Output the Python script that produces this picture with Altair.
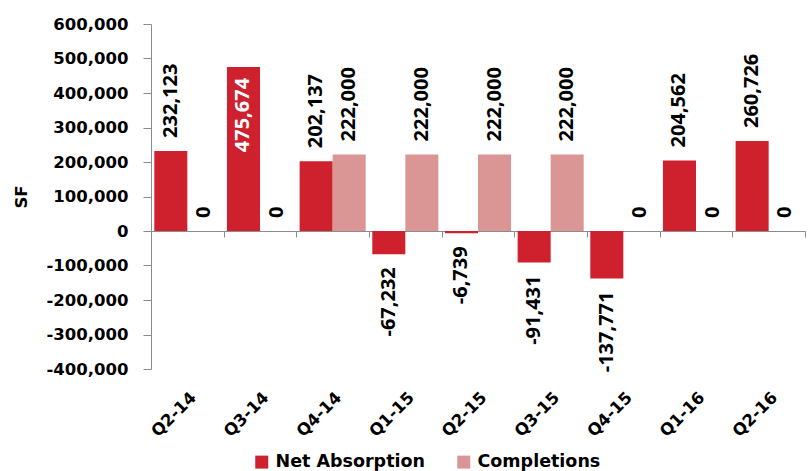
import altair as alt
import pandas as pd

# Quarterly office market figures (square feet)
quarters = ["Q2-14", "Q3-14", "Q4-14", "Q1-15", "Q2-15", "Q3-15", "Q4-15", "Q1-16", "Q2-16"]
net_absorption = [232123, 475674, 202137, -67232, -6739, -91431, -137771, 204562, 260726]
completions = [0, 0, 222000, 222000, 222000, 222000, 0, 0, 0]
series_names = ["Net Absorption", "Completions"]
series_colors = ["#CF202E", "#D99694"]

rows = []
for q, na, c in zip(quarters, net_absorption, completions):
    rows.append({"quarter": q, "series": series_names[0], "value": na})
    rows.append({"quarter": q, "series": series_names[1], "value": c})
df = pd.DataFrame(rows)

FONT = "DejaVu Sans"
LABEL_FONT = "Open Sans"
GREY = "#8C8C8C"
W, H = 654, 345
Y_MIN, Y_MAX = -400000, 600000
zero_offset = -H * (0 - Y_MIN) / (Y_MAX - Y_MIN)  # lift the x axis line to y = 0

# thousands separator with a plain hyphen for negatives
num_expr = "replace(format({v}, ',.0f'), '\u2212', '-')"

x_enc = alt.X(
    "quarter:N",
    sort=quarters,
    scale=alt.Scale(paddingInner=0, paddingOuter=0),
    axis=alt.Axis(
        title=None,
        orient="bottom",
        offset=zero_offset,
        tickBand="extent",
        domainColor=GREY,
        tickColor=GREY,
        tickSize=6,
        labelAngle=-45,
        labelAlign="right",
        labelBaseline="top",
        labelPadding=-zero_offset + 14,
        labelFont=FONT,
        labelFontWeight="bold",
        labelFontSize=16.5,
        labelColor="#000000",
    ),
)
xoff_enc = alt.XOffset(
    "series:N",
    sort=series_names,
    scale=alt.Scale(paddingInner=0, paddingOuter=0.1),
)
y_enc = alt.Y(
    "value:Q",
    scale=alt.Scale(domain=[Y_MIN, Y_MAX], nice=False),
    axis=alt.Axis(
        title="SF",
        titleFont=FONT,
        titleFontWeight="bold",
        titleFontSize=16.5,
        titleColor="#000000",
        titlePadding=16,
        values=list(range(Y_MIN, Y_MAX + 1, 100000)),
        labelExpr=num_expr.format(v="datum.value"),
        labelOverlap=False,
        grid=False,
        domainColor=GREY,
        tickColor=GREY,
        tickSize=8,
        labelPadding=15,
        labelFont=FONT,
        labelFontWeight="bold",
        labelFontSize=16.5,
        labelColor="#000000",
    ),
)

bars = alt.Chart(df).mark_bar().encode(
    x=x_enc,
    xOffset=xoff_enc,
    y=y_enc,
    color=alt.Color(
        "series:N",
        sort=series_names,
        scale=alt.Scale(domain=series_names, range=series_colors),
        legend=alt.Legend(
            title=None,
            orient="none",
            direction="horizontal",
            legendX=102,
            legendY=429,
            symbolType="square",
            symbolSize=169,
            symbolStrokeWidth=0,
            symbolOpacity=1,
            labelFont=FONT,
            labelFontWeight="bold",
            labelFontSize=17.5,
            labelColor="#000000",
            columnPadding=30,
            labelOffset=5,
        ),
    ),
)

label_base = (
    alt.Chart(df)
    .transform_calculate(label=num_expr.format(v="datum.value"))
    .encode(x=x_enc, xOffset=xoff_enc, y=y_enc, text="label:N")
)
text_style = dict(angle=270, baseline="middle", font=LABEL_FONT, fontWeight="bold", fontSize=20)

labels_up = label_base.mark_text(align="left", dx=13, color="#000000", **text_style).transform_filter(
    "datum.value >= 0 && datum.value <= 400000"
)
labels_down = label_base.mark_text(align="right", dx=-13, color="#000000", **text_style).transform_filter(
    "datum.value < 0"
)
labels_inside = label_base.mark_text(align="right", dx=-11, color="#FFFFFF", **text_style).transform_filter(
    "datum.value > 400000"
)

chart = (
    alt.layer(bars, labels_up, labels_down, labels_inside)
    .properties(
        width=W,
        height=H,
        autosize=alt.AutoSizeParams(type="none"),
        padding={"left": 151, "top": 24, "right": 5, "bottom": 102},
        background="#FFFFFF",
    )
    .configure_view(stroke=None)
)

chart.save("out.html", embed_options={"renderer": "svg", "actions": False})
